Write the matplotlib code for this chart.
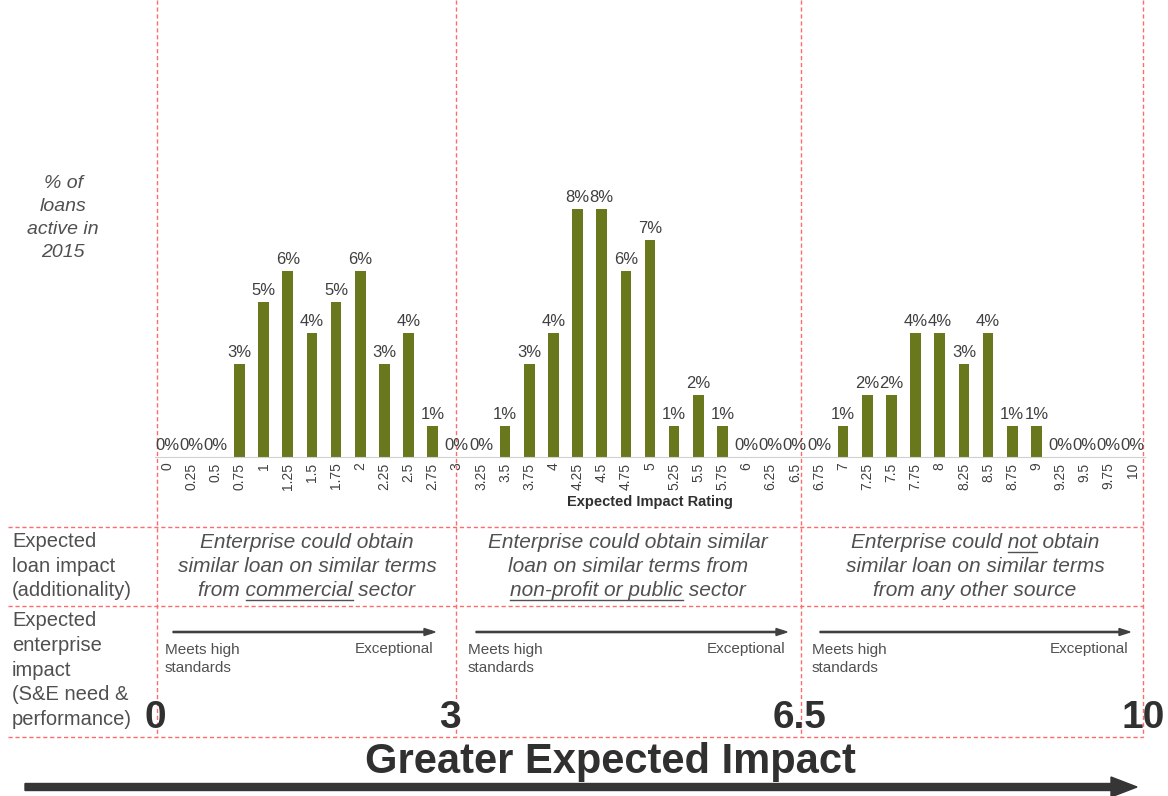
import matplotlib
matplotlib.use('Agg')
import matplotlib.pyplot as plt
from matplotlib.patches import FancyArrow

plt.rcParams['font.family'] = ['Liberation Sans', 'DejaVu Sans']

# expected impact rating categories (x axis)
rating_labels = ['0', '0.25', '0.5', '0.75', '1', '1.25', '1.5', '1.75', '2', '2.25', '2.5', '2.75',
                 '3', '3.25', '3.5', '3.75', '4', '4.25', '4.5', '4.75', '5', '5.25', '5.5', '5.75',
                 '6', '6.25', '6.5', '6.75', '7', '7.25', '7.5', '7.75', '8', '8.25', '8.5', '8.75',
                 '9', '9.25', '9.5', '9.75', '10']
ratings = [float(s) for s in rating_labels]

# % of loans active in 2015
pct_loans = [0, 0, 0, 3, 5, 6, 4, 5, 6, 3, 4, 1,
             0, 0, 1, 3, 4, 8, 8, 6, 7, 1, 2, 1, 0, 0, 0,
             0, 1, 2, 2, 4, 4, 3, 4, 1, 1, 0, 0, 0, 0]

boundary_labels = ['0', '3', '6.5', '10']

loan_impact = [
    ('Enterprise could obtain', None),
    ('similar loan on similar terms', None),
    ('from commercial sector', ('from ', 'commercial')),
    ('Enterprise could obtain similar', None),
    ('loan on similar terms from', None),
    ('non-profit or public sector', ('', 'non-profit or public')),
    ('Enterprise could not obtain', ('Enterprise could ', 'not')),
    ('similar loan on similar terms', None),
    ('from any other source', None),
]

W, H = 1168, 796
olive = '#6a781d'
grey = '#505050'
red = '#ff6b6b'

fig = plt.figure(figsize=(W / 100, H / 100), dpi=100)

# overlay in pixel coords for the table / annotations
ov = fig.add_axes([0, 0, 1, 1])
ov.set_xlim(0, W)
ov.set_ylim(H, 0)
ov.axis('off')

# bar chart
ax = fig.add_axes([155 / W, (H - 457) / H, (1145 - 155) / W, (457 - 170) / H])
ax.patch.set_alpha(0)
bars = ax.bar(ratings, pct_loans, width=0.11, color=olive)
ax.bar_label(bars, labels=[f'{v}%' for v in pct_loans], padding=3, fontsize=12, color='#404040')
ax.set_xlim(-0.125, 10.125)
ax.set_ylim(0, 287 / 31)
for s in ['top', 'left', 'right']:
    ax.spines[s].set_visible(False)
ax.spines['bottom'].set_color('#d0d0d0')
ax.set_yticks([])
ax.set_xticks(ratings, rating_labels, rotation=90, fontsize=10, color='#404040')
ax.tick_params(axis='x', length=0, pad=4)
ax.set_xlabel('Expected Impact Rating', fontweight='bold', fontsize=10.5, color='#303030', labelpad=4)

# dashed grid of the table
vx = [157, 456, 801, 1143]
for x in vx:
    ov.plot([x, x], [0, 737], color=red, lw=1, ls=(0, (3, 2)))
for y in [527, 606, 737]:
    ov.plot([8, 1143], [y, y], color=red, lw=1, ls=(0, (3, 2)))

ov.text(63, 218, '% of\nloans\nactive in\n2015', ha='center', va='center', style='italic',
        fontsize=14, color=grey, linespacing=1.45)
ov.text(12, 566, 'Expected\nloan impact\n(additionality)', ha='left', va='center',
        fontsize=14.5, color=grey, linespacing=1.35)
ov.text(12, 670, 'Expected\nenterprise\nimpact\n(S&E need &\nperformance)', ha='left', va='center',
        fontsize=14.5, color=grey, linespacing=1.38)

# section descriptions
centers = [307, 628, 975]
line_y = [543, 567, 591]
r = fig.canvas.get_renderer()
for i, (txt, ul) in enumerate(loan_impact):
    cx = centers[i // 3]
    cy = line_y[i % 3]
    kw = dict(style='italic', fontsize=15, color=grey)
    t = ov.text(cx, cy, txt, ha='center', va='center', **kw)
    if ul:
        before, word = ul
        bb = t.get_window_extent(r)
        tmp = ov.text(0, 0, before + word, **kw)
        w_all = tmp.get_window_extent(r).width
        tmp.remove()
        tmp = ov.text(0, 0, word, **kw)
        w_word = tmp.get_window_extent(r).width
        tmp.remove()
        x1 = bb.x0 + w_all - w_word
        x2 = bb.x0 + w_all
        yy = H - bb.y0 - 1
        ov.plot([x1, x2], [yy, yy], color=grey, lw=1)

# enterprise impact arrows
arrows = [(173, 435), (476, 787), (820, 1130)]
for x1, x2 in arrows:
    ov.add_patch(FancyArrow(x1, 632, x2 - x1, 0, width=1.2, head_width=7, head_length=11,
                            length_includes_head=True, color='#404040'))
    ov.text(x1 - 8, 659, 'Meets high\nstandards', ha='left', va='center', fontsize=11,
            color=grey, linespacing=1.3)
    ov.text(x2 - 2, 649, 'Exceptional', ha='right', va='center', fontsize=11, color=grey)

num_x = [155, 450, 800, 1143]
for x, lab in zip(num_x, boundary_labels):
    ov.text(x, 718, lab, ha='center', va='center', fontsize=28, fontweight='bold', color='#303030')

ov.text(610, 762, 'Greater Expected Impact', ha='center', va='center', fontsize=30,
        fontweight='bold', color='#303030')
ov.add_patch(FancyArrow(25, 787, 1112, 0, width=7, head_width=20, head_length=26,
                        length_includes_head=True, color='#353535'))

fig.savefig('out.png', dpi=100)
